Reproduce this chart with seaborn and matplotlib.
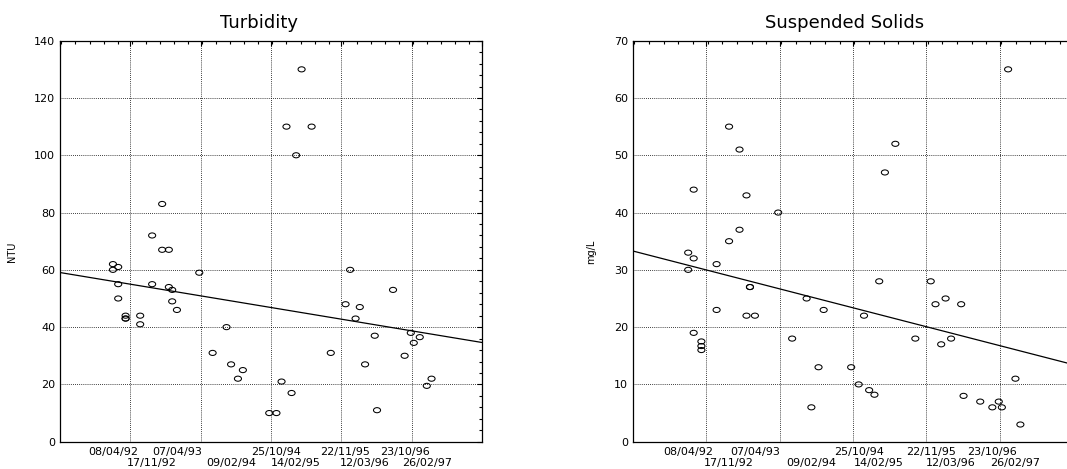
import numpy as np
import pandas as pd
import matplotlib
matplotlib.use("Agg")
import matplotlib.pyplot as plt
import matplotlib.dates as mdates
from matplotlib.path import Path
from matplotlib.transforms import Affine2D
from matplotlib.ticker import MultipleLocator
import seaborn as sns

# sampling dates (repeated dates = several samples on the same day)
sample_dates = [
    "1992-04-08", "1992-04-08",
    "1992-05-08", "1992-05-08", "1992-05-08",
    "1992-06-19", "1992-06-19", "1992-06-19",
    "1992-09-10", "1992-09-10",
    "1992-11-17", "1992-11-17",
    "1993-01-13", "1993-01-13",
    "1993-02-20", "1993-02-20",
    "1993-03-11", "1993-03-11",
    "1993-04-07",
    "1993-08-12", "1993-10-27", "1994-01-14", "1994-02-09", "1994-03-20", "1994-04-17",
    "1994-09-14", "1994-10-25", "1994-11-23", "1994-12-21", "1995-01-19", "1995-02-14",
    "1995-03-17", "1995-05-13", "1995-08-30", "1995-11-22", "1995-12-18", "1996-01-18",
    "1996-02-11", "1996-03-12", "1996-05-06", "1996-05-19", "1996-08-18", "1996-10-23",
    "1996-11-27", "1996-12-14", "1997-01-17", "1997-02-26", "1997-03-25",
]

turbidity = [
    62, 60, 61, 55, 50, 44, 43, 43, 44, 41, 72, 55, 83, 67, 67, 54, 53, 49, 46,
    59, 31, 40, 27, 22, 25,
    10, 10, 21, 110, 17, 100,
    130, 110, 31, 48, 60, 43,
    47, 27, 37, 11, 53, 30,
    38, 34.5, 36.5, 19.5, 22,
]

suspended_solids = [
    33, 30, 44, 32, 19, 17.5, 16.7, 16, 31, 23, 55, 35, 51, 37, 43, 22, 27, 27, 22,
    40, 18, 25, 6, 13, 23,
    13, 10, 22, 9, 8.2, 28,
    47, 52, 18, 28, 24, 17,
    25, 18, 24, 8, 7, 6,
    7, 6, 65, 11, 3,
]

label_dates = ["1992-04-08", "1992-11-17", "1993-04-07", "1994-02-09", "1994-10-25",
               "1995-02-14", "1995-11-22", "1996-03-12", "1996-10-23", "1997-02-26"]

panels = [
    ("Turbidity", "NTU", turbidity, 140, 20),
    ("Suspended Solids", "mg/L", suspended_solids, 70, 10),
]

sns.set_style("white")
plt.rcParams["font.family"] = ["DejaVu Sans"]

x = mdates.date2num(pd.to_datetime(sample_dates))
lab_x = mdates.date2num(pd.to_datetime(label_dates))
x0 = mdates.date2num(pd.Timestamp("1991-06-12"))
x1 = x0 + 2400

ellipse = Path.unit_circle().transformed(Affine2D().scale(1.0, 0.72))

fig = plt.figure(figsize=(10.67, 4.69), dpi=100)
boxes = [[60 / 1067, 27.3 / 469, 422 / 1067, 401 / 469],
         [633 / 1067, 27.3 / 469, 440 / 1067, 401 / 469]]
title_x = [0.472, 0.48]
ylab_x = [-0.103, -0.083]

for box, (title, unit, vals, ymax, ystep), tx, lx in zip(boxes, panels, title_x, ylab_x):
    ax = fig.add_axes(box)
    ax.set_xlim(x0, x1)
    ax.set_ylim(0, ymax)
    sns.regplot(x=x, y=np.array(vals, dtype=float), ax=ax, scatter=False, ci=None,
                truncate=False, color="black", line_kws={"linewidth": 0.9})
    sns.scatterplot(x=x, y=vals, ax=ax, marker=ellipse, s=26, color="none",
                    edgecolor="black", linewidth=0.75, zorder=3)
    ax.set_xlim(x0, x1)
    ax.set_ylim(0, ymax)

    ax.xaxis.set_major_locator(MultipleLocator(400))
    ax.xaxis.set_minor_locator(MultipleLocator(80))
    ax.set_xticks(np.arange(x0, x1 + 1, 400))
    ax.yaxis.set_major_locator(MultipleLocator(ystep))
    ax.yaxis.set_minor_locator(MultipleLocator(ystep / 5))
    ax.tick_params(which="both", direction="in", top=True, right=True, width=0.8,
                   color="black", labelbottom=False, labelsize=8, labelcolor="black", pad=3.5)
    ax.tick_params(which="major", length=3.5)
    ax.tick_params(which="minor", length=2)
    ax.grid(True, which="major", color="black", linestyle=(0, (1, 1.5)), linewidth=0.6)
    for sp in ax.spines.values():
        sp.set_color("black")
        sp.set_linewidth(0.9)

    for i, (lx_, d) in enumerate(zip(lab_x, label_dates)):
        txt = pd.Timestamp(d).strftime("%d/%m/%y")
        ax.text(lx_, -0.025 if i % 2 == 0 else -0.054, txt, transform=ax.get_xaxis_transform(),
                ha="center", va="center", fontsize=8, color="black")

    ax.set_xlabel("")
    ax.set_ylabel(unit, fontsize=7, color="black")
    ax.yaxis.set_label_coords(lx, 0.473)
    ax.set_title(title, x=tx, pad=8.9, fontsize=13, color="black")

fig.savefig("out.png", dpi=100)
